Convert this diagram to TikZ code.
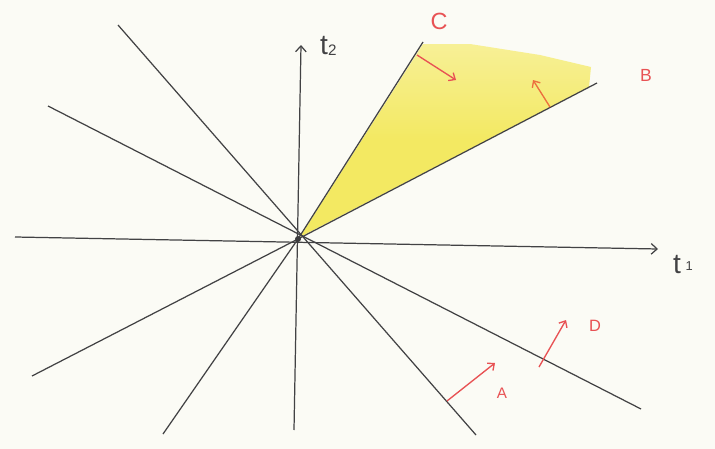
\documentclass[tikz,border=0pt]{standalone}
\usepackage{fontspec}
\setmainfont{Liberation Sans}
\usetikzlibrary{arrows.meta}
\definecolor{paper}{RGB}{251,251,245}
\definecolor{pencil}{RGB}{66,66,68}
\definecolor{redpen}{RGB}{232,82,84}
\definecolor{orangepen}{RGB}{236,112,62}
\definecolor{yel}{RGB}{243,233,98}
\definecolor{yeltop}{RGB}{247,240,150}
\begin{document}
\begin{tikzpicture}[x=0.03cm,y=-0.03cm,
  ray/.style={draw=pencil,line width=1.05pt},
  axisline/.style={ray,-{Straight Barb[length=5pt,width=9pt]}},
  normalarrow/.style={draw=redpen,line width=1.15pt,-{Straight Barb[length=4.5pt,width=8pt]}},
  redlabel/.style={text=redpen,inner sep=0pt},
  axislabel/.style={text=pencil,inner sep=0pt}]
% paper
\fill[paper] (0,0) rectangle (715,449);
\useasboundingbox (0,0) rectangle (715,449);
% coordinates
\coordinate (O) at (298,239);
\coordinate (t2s) at (294,430);
\coordinate (t2e) at (301,45);
\coordinate (t1s) at (15,237);
\coordinate (t1e) at (658,249);
\coordinate (L1a) at (118,25);
\coordinate (L1b) at (476,435);
\coordinate (L2a) at (48,106);
\coordinate (L2b) at (641,409);
\coordinate (Ba) at (32,376);
\coordinate (Bb) at (597,83);
\coordinate (Ca) at (163,434);
\coordinate (Cb) at (423,42);
% yellow cone
\shade[top color=yeltop,bottom color=yel,middle color=yel,shading angle=0]
  (300,237) -- (423,44) -- (470,44) -- (540,55) -- (591,67) -- (589,87) -- cycle;
% rays
\draw[ray] (L1a) -- (L1b);
\draw[ray] (L2a) -- (L2b);
\draw[ray] (Ba) -- (O) -- (Bb);
\draw[ray] (Ca) -- (O) -- (Cb);
% axes
\draw[axisline] (t1s) -- (t1e);
\draw[axisline] (t2s) -- (t2e);
\fill[pencil!90!black] (O) circle[radius=3];
% normal arrows
\coordinate (nCs) at (417,55);  \coordinate (nCe) at (456,80);
\coordinate (nBs) at (550,107); \coordinate (nBe) at (533,80);
\coordinate (nAs) at (447,401); \coordinate (nAe) at (495,363);
\coordinate (nDs) at (539,367); \coordinate (nDe) at (566,320);
\draw[normalarrow] (nCs) -- (nCe);
\draw[normalarrow,draw=orangepen] (nBs) -- (nBe);
\draw[normalarrow] (nAs) -- (nAe);
\draw[normalarrow] (nDs) -- (nDe);
% labels
\node[redlabel,font=\fontsize{20}{22}\selectfont] (labC) at (439,21) {C};
\node[redlabel,font=\fontsize{15}{17}\selectfont] (labB) at (646,75) {B};
\node[redlabel,font=\fontsize{13}{15}\selectfont] (labA) at (502,393) {A};
\node[redlabel,font=\fontsize{14}{16}\selectfont] (labD) at (595,326) {D};
\node[axislabel,font=\fontsize{24}{26}\selectfont,anchor=base west] (labt2) at (320,54) {t\raisebox{-1pt}{\fontsize{13}{15}\selectfont 2}};
\node[axislabel,font=\fontsize{24}{26}\selectfont,anchor=base west] (labt1) at (673,273) {t\,\raisebox{2pt}{\fontsize{11}{13}\selectfont 1}};
\end{tikzpicture}
\end{document}
